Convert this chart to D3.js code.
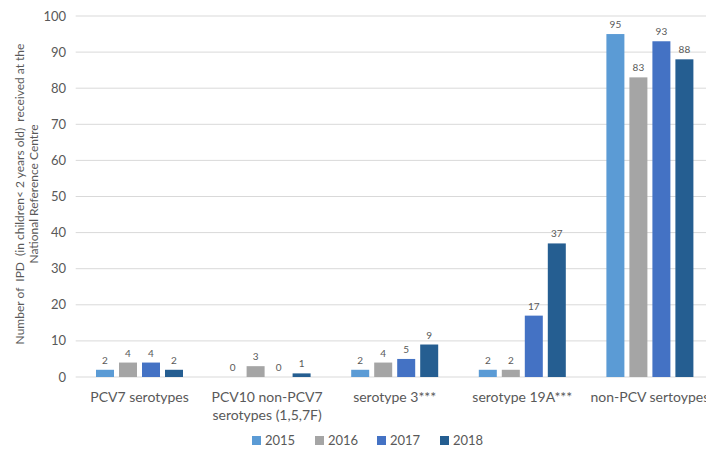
<!DOCTYPE html>
<html><head><meta charset="utf-8">
<script src="https://cdn.jsdelivr.net/npm/d3@7/dist/d3.min.js"></script>
<style>body{margin:0;background:#fff}svg{display:block;font-family:Lato,"Open Sans",sans-serif}</style>
</head><body><svg id="c" width="706" height="450"></svg>
<script>
const categories = [["PCV7 serotypes"],["PCV10 non-PCV7","serotypes (1,5,7F)"],["serotype 3***"],["serotype 19A***"],["non-PCV sertoypes"]];
const years = ["2015","2016","2017","2018"];
const v2015 = [2,0,2,2,95];
const v2016 = [4,3,4,2,83];
const v2017 = [4,0,5,17,93];
const v2018 = [2,1,9,37,88];
const yTicks = [0,10,20,30,40,50,60,70,80,90,100];
const colors = ["#5B9BD5","#A5A5A5","#4472C4","#255E91"];
const series = [v2015,v2016,v2017,v2018];

(function(){
const svg = d3.select("#c");
const pl = 75.7, pr = 713.7, pt = 16, pb = 377;
const x0 = d3.scaleBand().domain(d3.range(categories.length)).range([pl,pr]).paddingInner(0).paddingOuter(0);
const y = d3.scaleLinear().domain([0,100]).range([pb,pt]);
const barW = 18, gap = 5;
const groupW = 4*barW + 3*gap;

svg.append("g").selectAll("line").data(yTicks.filter(d=>d>0)).join("line")
  .attr("x1",pl).attr("x2",706).attr("y1",d=>y(d)).attr("y2",d=>y(d))
  .attr("stroke","#D9D9D9").attr("stroke-width",1);
svg.append("line").attr("x1",pl).attr("x2",706).attr("y1",pb).attr("y2",pb).attr("stroke","#D9D9D9");

svg.append("g").selectAll("text").data(yTicks).join("text")
  .attr("x",66).attr("y",d=>y(d)).attr("dy","0.35em").attr("text-anchor","end")
  .attr("font-size",13).attr("fill","#595959").text(d=>d);

series.forEach((s,si)=>{
  const g = svg.append("g");
  s.forEach((v,ci)=>{
    const cx = x0(ci) + x0.bandwidth()/2;
    const bx = cx - groupW/2 + si*(barW+gap);
    if (v>0) g.append("rect").attr("x",bx).attr("y",y(v)).attr("width",barW).attr("height",pb-y(v)).attr("fill",colors[si]);
    g.append("text").attr("x",bx+barW/2).attr("y",y(v)-6).attr("text-anchor","middle")
      .attr("font-size",10).attr("fill","#595959").text(v);
  });
});

categories.forEach((lines,ci)=>{
  const cx = x0(ci) + x0.bandwidth()/2;
  lines.forEach((t,li)=>{
    svg.append("text").attr("x",cx).attr("y",402+li*18).attr("text-anchor","middle")
      .attr("font-size",14).attr("fill","#595959").text(t);
  });
});

const yt = svg.append("text").attr("transform","translate(24,194) rotate(-90)")
  .attr("text-anchor","middle").attr("font-size",12).attr("fill","#595959")
  .style("white-space","pre");
yt.append("tspan").attr("x",0).attr("dy",0).text("Number of  IPD  (in children< 2 years old)  received at the");
yt.append("tspan").attr("x",0).attr("dy",14).text("National Reference Centre");

const legX = [252,315,377,440];
years.forEach((yr,i)=>{
  svg.append("rect").attr("x",legX[i]).attr("y",436).attr("width",9).attr("height",9).attr("fill",colors[i]);
  svg.append("text").attr("x",legX[i]+13).attr("y",445).attr("font-size",13).attr("fill","#595959").text(yr);
});
})();
</script></body></html>
